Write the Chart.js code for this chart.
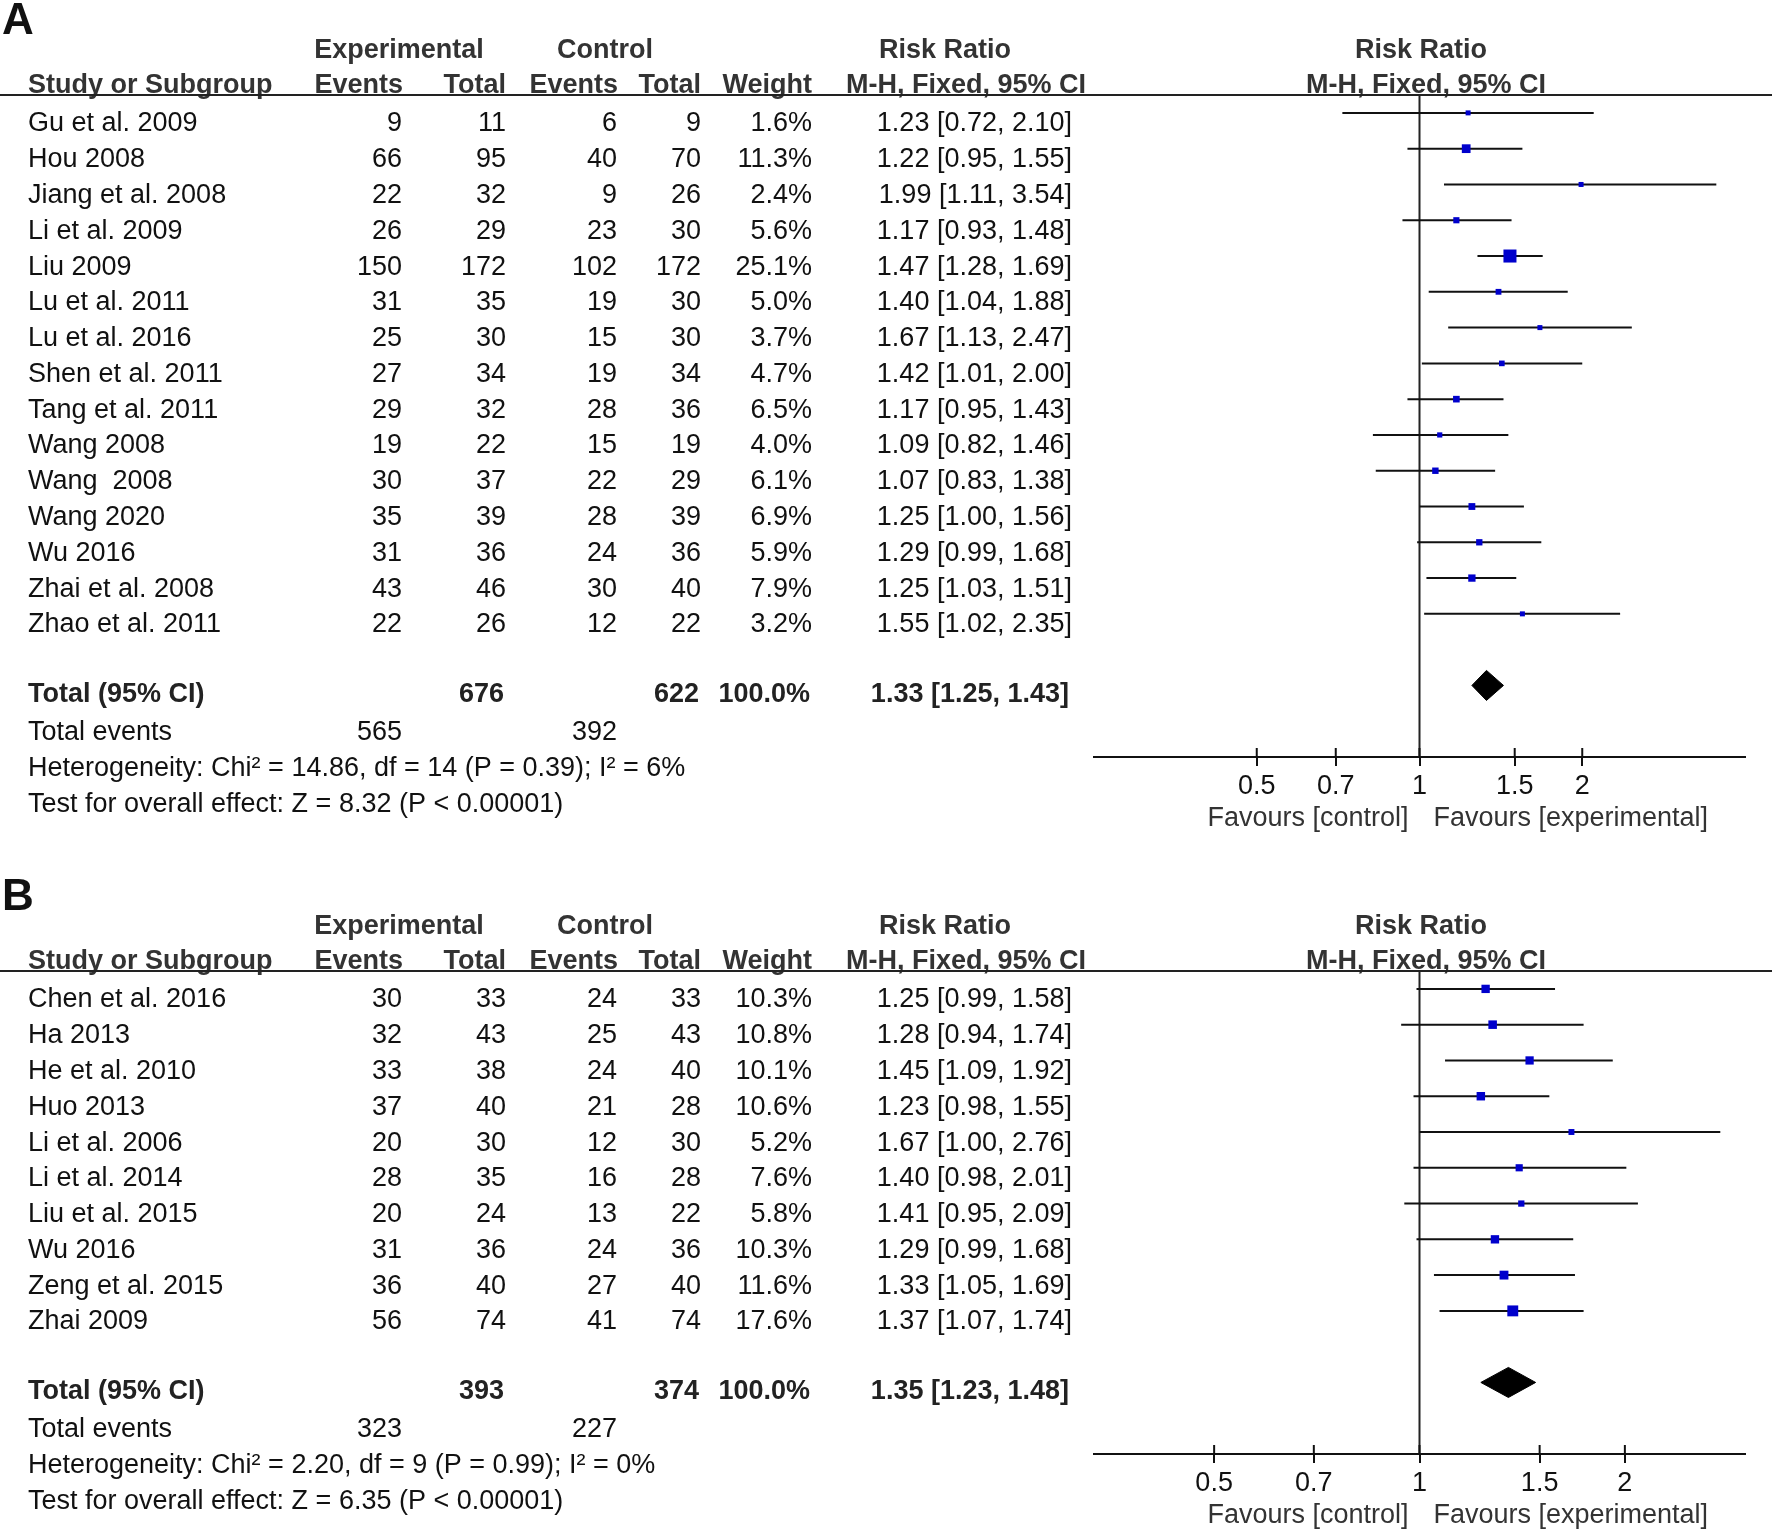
<!DOCTYPE html>
<html><head><meta charset="utf-8">
<script src="https://cdn.jsdelivr.net/npm/chart.js@4.4.0/dist/chart.umd.min.js"></script>
<style>
html,body{margin:0;padding:0;background:#fff;}
body{width:1772px;height:1534px;position:relative;overflow:hidden;}
canvas{position:absolute;left:0;}
#cA{top:0;} #cB{top:860px;}
</style></head><body>
<canvas id="cA" width="1772" height="860"></canvas>
<canvas id="cB" width="1772" height="674"></canvas>
<script>
// ---------- Panel A data ----------
const studiesA = ["Gu et al. 2009","Hou 2008","Jiang et al. 2008","Li et al. 2009","Liu 2009","Lu et al. 2011","Lu et al. 2016","Shen et al. 2011","Tang et al. 2011","Wang 2008","Wang  2008","Wang 2020","Wu 2016","Zhai et al. 2008","Zhao et al. 2011"];
const expEventsA = [9,66,22,26,150,31,25,27,29,19,30,35,31,43,22];
const expTotalA  = [11,95,32,29,172,35,30,34,32,22,37,39,36,46,26];
const ctrlEventsA = [6,40,9,23,102,19,15,19,28,15,22,28,24,30,12];
const ctrlTotalA  = [9,70,26,30,172,30,30,34,36,19,29,39,36,40,22];
const weightA = [1.6,11.3,2.4,5.6,25.1,5.0,3.7,4.7,6.5,4.0,6.1,6.9,5.9,7.9,3.2];
const rrA = [1.23,1.22,1.99,1.17,1.47,1.40,1.67,1.42,1.17,1.09,1.07,1.25,1.29,1.25,1.55];
const loA = [0.72,0.95,1.11,0.93,1.28,1.04,1.13,1.01,0.95,0.82,0.83,1.00,0.99,1.03,1.02];
const hiA = [2.10,1.55,3.54,1.48,1.69,1.88,2.47,2.00,1.43,1.46,1.38,1.56,1.68,1.51,2.35];
const totalA = {expEvents:565, expTotal:676, ctrlEvents:392, ctrlTotal:622, weight:100.0, rr:1.33, lo:1.25, hi:1.43};
const hetA = "Heterogeneity: Chi\u00b2 = 14.86, df = 14 (P = 0.39); I\u00b2 = 6%";
const testA = "Test for overall effect: Z = 8.32 (P < 0.00001)";
const ticksA = [0.5,0.7,1,1.5,2];
const rangeA = [0.25,4];

// ---------- Panel B data ----------
const studiesB = ["Chen et al. 2016","Ha 2013","He et al. 2010","Huo 2013","Li et al. 2006","Li et al. 2014","Liu et al. 2015","Wu 2016","Zeng et al. 2015","Zhai 2009"];
const expEventsB = [30,32,33,37,20,28,20,31,36,56];
const expTotalB  = [33,43,38,40,30,35,24,36,40,74];
const ctrlEventsB = [24,25,24,21,12,16,13,24,27,41];
const ctrlTotalB  = [33,43,40,28,30,28,22,36,40,74];
const weightB = [10.3,10.8,10.1,10.6,5.2,7.6,5.8,10.3,11.6,17.6];
const rrB = [1.25,1.28,1.45,1.23,1.67,1.40,1.41,1.29,1.33,1.37];
const loB = [0.99,0.94,1.09,0.98,1.00,0.98,0.95,0.99,1.05,1.07];
const hiB = [1.58,1.74,1.92,1.55,2.76,2.01,2.09,1.68,1.69,1.74];
const totalB = {expEvents:323, expTotal:393, ctrlEvents:227, ctrlTotal:374, weight:100.0, rr:1.35, lo:1.23, hi:1.48};
const hetB = "Heterogeneity: Chi\u00b2 = 2.20, df = 9 (P = 0.99); I\u00b2 = 0%";
const testB = "Test for overall effect: Z = 6.35 (P < 0.00001)";
const ticksB = [0.5,0.7,1,1.5,2];
const rangeB = [1/3,3];

// ---------- style ----------
const FONT = '"Liberation Sans", Arial, Helvetica, sans-serif';
const FS = 27;
const COL = {name:28, expE:402, expT:506, ctrE:617, ctrT:701, wt:812, ci:1072};
const HDR = {exp:399, ctrl:605, rr:945, mh:966, prr:1421, pmh:1426};
const DIAMOND_HALF = 0.42;

function fmtCI(r,l,h){ return r.toFixed(2)+" ["+l.toFixed(2)+", "+h.toFixed(2)+"]"; }
function markerSide(w){ return Math.max(5, 2.6*Math.sqrt(w)); }

function makePanel(canvasId, P){
  const n = P.studies.length;
  const T = n + 1;
  const yMin = -0.5, yMax = n + 3;
  const datasets = [];
  datasets.push({
    data: P.rr.map((v,i)=>({x:v,y:i})),
    pointStyle:'rect',
    pointRadius: c => markerSide(P.weight[c.dataIndex]) / Math.SQRT2,
    pointHoverRadius: c => markerSide(P.weight[c.dataIndex]) / Math.SQRT2,
    backgroundColor:'#0000CC', pointBackgroundColor:'#0000CC',
    pointBorderWidth:0, borderWidth:0, showLine:false, order:0
  });
  datasets.push({
    data:[{x:P.total.lo,y:T},{x:P.total.rr,y:T-DIAMOND_HALF},{x:P.total.hi,y:T},{x:P.total.rr,y:T+DIAMOND_HALF},{x:P.total.lo,y:T}],
    showLine:true, fill:'shape', backgroundColor:'#000', borderColor:'#000', borderWidth:1, pointRadius:0, order:0
  });
  P.studies.forEach((_,i)=>{
    datasets.push({data:[{x:P.lo[i],y:i},{x:P.hi[i],y:i}], showLine:true, borderColor:'#111', borderWidth:2, pointRadius:0, order:1});
  });
  datasets.push({data:[{x:1,y:yMin},{x:1,y:yMax}], showLine:true, borderColor:'#222', borderWidth:2, pointRadius:0, order:2});

  const table = {
    id:'table'+canvasId,
    afterDraw(chart){
      const ctx = chart.ctx, ys = chart.scales.y, xs = chart.scales.x, ca = chart.chartArea;
      const t = (s,x,y,align,bold,color,size) => {
        ctx.font = (bold?'bold ':'') + (size||FS) + 'px ' + FONT;
        ctx.fillStyle = color || '#111';
        ctx.textAlign = align || 'left';
        ctx.textBaseline = 'alphabetic';
        ctx.fillText(s,x,y);
      };
      ctx.save();
      // panel letter
      t(P.letter, 2, ca.top - 61, 'left', true, '#111', 44);
      // headers
      const h1 = ca.top - 37, h2 = ca.top - 2, hc = '#333';
      t('Experimental', HDR.exp, h1, 'center', true, hc);
      t('Control', HDR.ctrl, h1, 'center', true, hc);
      t('Risk Ratio', HDR.rr, h1, 'center', true, hc);
      t('Risk Ratio', HDR.prr, h1, 'center', true, hc);
      t('Study or Subgroup', COL.name, h2, 'left', true, hc);
      t('Events', COL.expE+1, h2, 'right', true, hc);
      t('Total', COL.expT, h2, 'right', true, hc);
      t('Events', COL.ctrE+1, h2, 'right', true, hc);
      t('Total', COL.ctrT, h2, 'right', true, hc);
      t('Weight', COL.wt, h2, 'right', true, hc);
      t('M-H, Fixed, 95% CI', HDR.mh, h2, 'center', true, hc);
      t('M-H, Fixed, 95% CI', HDR.pmh, h2, 'center', true, hc);
      // header rule
      ctx.strokeStyle = '#222'; ctx.lineWidth = 2;
      ctx.beginPath(); ctx.moveTo(0, ca.top); ctx.lineTo(chart.width, ca.top); ctx.stroke();
      // rows
      P.studies.forEach((s,i)=>{
        const y = ys.getPixelForValue(i) + 18.5;
        t(s, COL.name, y);
        t(String(P.expE[i]), COL.expE, y, 'right');
        t(String(P.expT[i]), COL.expT, y, 'right');
        t(String(P.ctrE[i]), COL.ctrE, y, 'right');
        t(String(P.ctrT[i]), COL.ctrT, y, 'right');
        t(P.weight[i].toFixed(1)+'%', COL.wt, y, 'right');
        t(fmtCI(P.rr[i],P.lo[i],P.hi[i]), COL.ci, y, 'right');
      });
      const ty = ys.getPixelForValue(T);
      const yb = ty + 17;
      t('Total (95% CI)', COL.name, yb, 'left', true, '#222');
      t(String(P.total.expTotal), COL.expT-2, yb, 'right', true, '#222');
      t(String(P.total.ctrlTotal), COL.ctrT-2, yb, 'right', true, '#222');
      t(P.total.weight.toFixed(1)+'%', COL.wt-2, yb, 'right', true, '#222');
      t(fmtCI(P.total.rr,P.total.lo,P.total.hi), COL.ci-3, yb, 'right', true, '#222');
      t('Total events', COL.name, ty + 55);
      t(String(P.total.expEvents), COL.expE, ty + 55, 'right');
      t(String(P.total.ctrlEvents), COL.ctrE, ty + 55, 'right');
      t(P.het, COL.name, ty + 91);
      t(P.test, COL.name, ty + 127);
      // tick marks above axis
      ctx.strokeStyle = '#111'; ctx.lineWidth = 2;
      xs.ticks.forEach(tk=>{
        const px = xs.getPixelForValue(tk.value);
        ctx.beginPath(); ctx.moveTo(px, ca.bottom - 9); ctx.lineTo(px, ca.bottom); ctx.stroke();
      });
      // favours labels
      const x1 = xs.getPixelForValue(1);
      t('Favours [control]', x1 - 11, ca.bottom + 69, 'right', false, '#333');
      t('Favours [experimental]', x1 + 14, ca.bottom + 69, 'left', false, '#333');
      ctx.restore();
    }
  };

  return new Chart(document.getElementById(canvasId), {
    type:'scatter',
    data:{datasets},
    options:{
      responsive:false, animation:false, devicePixelRatio:1,
      layout:{padding:{left:1094, right:27, top:P.padTop, bottom:0}},
      plugins:{legend:{display:false}, tooltip:{enabled:false}},
      events:[],
      scales:{
        x:{
          type:'logarithmic', position:'bottom', bounds:'data', min:P.range[0], max:P.range[1],
          afterBuildTicks: s => { s.ticks = P.ticks.map(v=>({value:v})); },
          afterFit: s => { s.height = P.axisH; },
          grid:{drawOnChartArea:false, drawTicks:true, tickLength:9, color:'#111', lineWidth:2},
          border:{display:true, color:'#111', width:2},
          ticks:{autoSkip:false, maxRotation:0, padding:4, color:'#111', font:{family:FONT, size:FS},
                 callback: v => String(v)}
        },
        y:{type:'linear', reverse:true, min:yMin, max:yMax, display:false}
      }
    },
    plugins:[table]
  });
}

makePanel('cA', {letter:'A', studies:studiesA, expE:expEventsA, expT:expTotalA, ctrE:ctrlEventsA, ctrT:ctrlTotalA,
  weight:weightA, rr:rrA, lo:loA, hi:hiA, total:totalA, het:hetA, test:testA, ticks:ticksA, range:rangeA, padTop:95, axisH:103});
makePanel('cB', {letter:'B', studies:studiesB, expE:expEventsB, expT:expTotalB, ctrE:ctrlEventsB, ctrT:ctrlTotalB,
  weight:weightB, rr:rrB, lo:loB, hi:hiB, total:totalB, het:hetB, test:testB, ticks:ticksB, range:rangeB, padTop:111, axisH:80});
</script>
</body></html>
